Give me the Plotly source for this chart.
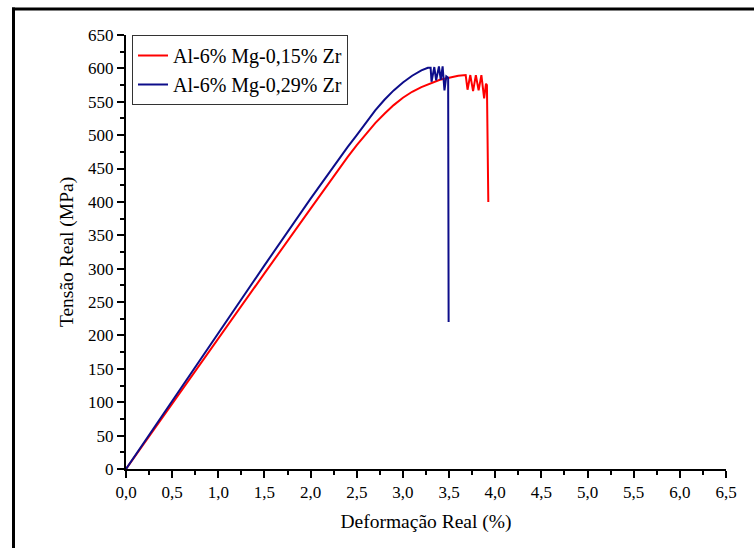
import plotly.graph_objects as go

# True strain (%) and true stress (MPa) for the two alloys
strain_015 = [0.0, 0.5, 1.0, 1.5, 2.0, 2.2, 2.4, 2.5, 2.6, 2.7, 2.8, 2.9, 3.0, 3.1, 3.2,
              3.3, 3.4, 3.5, 3.6, 3.68, 3.70, 3.73, 3.76, 3.79, 3.82, 3.85, 3.88, 3.90,
              3.91, 3.925]
stress_015 = [0, 98, 196, 293, 390, 429, 467, 485, 502, 518, 532, 545, 556, 565, 572,
              578, 583, 586, 589, 590, 568, 590, 566, 590, 567, 590, 555, 577,
              575, 400]

strain_029 = [0.0, 0.5, 1.0, 1.5, 2.0, 2.2, 2.4, 2.5, 2.6, 2.7, 2.8, 2.9, 3.0, 3.1, 3.2,
              3.27, 3.30, 3.31, 3.34, 3.36, 3.39, 3.41, 3.43, 3.45, 3.47, 3.49, 3.495]
stress_029 = [0, 102, 204, 305, 405, 444, 482, 500, 519, 537, 553, 567, 579, 589, 597,
              601, 601, 580, 602, 582, 603, 583, 603, 567, 588, 586, 220]

labels = ["Al-6% Mg-0,15% Zr", "Al-6% Mg-0,29% Zr"]

FONT = "Liberation Serif"

fig = go.Figure()
fig.add_trace(go.Scatter(x=strain_015, y=stress_015, mode="lines", name=labels[0],
                         line=dict(color="#ff0000", width=2)))
fig.add_trace(go.Scatter(x=strain_029, y=stress_029, mode="lines", name=labels[1],
                         line=dict(color="#0d0d8a", width=2)))

axis_common = dict(
    showline=True, linecolor="black", linewidth=2,
    ticks="outside", ticklen=7, tickwidth=2, tickcolor="black",
    showgrid=False, zeroline=False, mirror=False,
    tickfont=dict(family=FONT, size=17, color="black"),
)

fig.update_xaxes(
    range=[0, 6.5], dtick=0.5, tick0=0, tickformat=".1f",
    minor=dict(ticks="outside", ticklen=4, tickwidth=2, tickcolor="black", dtick=0.25),
    title=dict(text="Deformação Real (%)", font=dict(family=FONT, size=19.5, color="black"),
               standoff=13),
    **axis_common,
)
fig.update_yaxes(
    range=[0, 650], dtick=50, tick0=0,
    minor=dict(ticks="outside", ticklen=4, tickwidth=2, tickcolor="black", dtick=25),
    title=dict(text="Tensão Real (MPa)", font=dict(family=FONT, size=19.5, color="black"),
               standoff=9),
    **axis_common,
)

# Outer frame: only the top and left edges fall inside the page
fig.add_shape(type="line", xref="paper", yref="paper",
              x0=(12 - 126) / 600, x1=(760 - 126) / 600,
              y0=(469.3 - 9) / 434.3, y1=(469.3 - 9) / 434.3,
              line=dict(color="black", width=3))
fig.add_shape(type="line", xref="paper", yref="paper",
              x0=(13.5 - 126) / 600, x1=(13.5 - 126) / 600,
              y0=(469.3 - 7.5) / 434.3, y1=(469.3 - 560) / 434.3,
              line=dict(color="black", width=3))

fig.update_layout(
    width=754, height=548,
    margin=dict(l=126, r=28, t=35, b=79),
    paper_bgcolor="white", plot_bgcolor="white",
    separators=",.",
    font=dict(family=FONT, color="black"),
    legend=dict(x=0.01, y=1.0, xanchor="left", yanchor="top",
                bgcolor="white", bordercolor="#333333", borderwidth=1,
                font=dict(family=FONT, size=20, color="black"),
                tracegroupgap=0),
    showlegend=True,
)

fig.write_html("out.html")
